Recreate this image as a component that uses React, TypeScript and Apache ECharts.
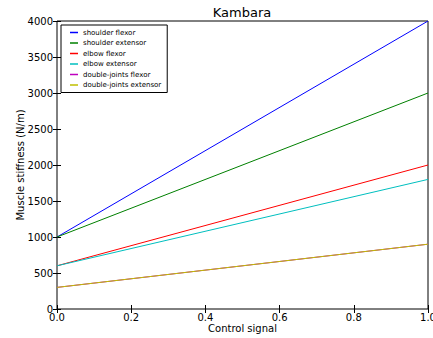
import React, { useEffect, useRef } from "react";
import * as echarts from "echarts";

const seriesNames = [
  "shoulder flexor",
  "shoulder extensor",
  "elbow flexor",
  "elbow extensor",
  "double-joints flexor",
  "double-joints extensor",
];
const xValues = [0, 1];
const startValues = [1000, 1000, 600, 600, 300, 300];
const endValues = [4000, 3000, 2000, 1800, 900, 900];
const colors = ["#0000ff", "#008000", "#ff0000", "#00bfbf", "#bf00bf", "#bfbf00"];

export default function App() {
  const ref = useRef<HTMLDivElement>(null);
  useEffect(() => {
    if (!ref.current) return;
    const chart = echarts.init(ref.current, null, { renderer: "svg" });
    const font = "DejaVu Sans";
    const tickStyle = { show: true, inside: true, length: 4, lineStyle: { color: "#000", width: 1 } };
    chart.setOption({
      animation: false,
      textStyle: { fontFamily: font },
      title: {
        text: "Kambara",
        left: 242,
        textAlign: "center",
        top: 6,
        padding: 0,
        textStyle: { fontFamily: font, fontSize: 13, fontWeight: "normal", color: "#000" },
      },
      legend: {
        orient: "vertical",
        left: 61,
        top: 25,
        borderColor: "#000",
        borderWidth: 1,
        padding: [4, 6, 4, 9],
        itemWidth: 8,
        itemHeight: 1.5,
        itemGap: 3.5,
        icon: "rect",
        textStyle: { fontFamily: font, fontSize: 7, color: "#000" },
        data: seriesNames,
      },
      grid: {
        left: 57,
        right: 5,
        top: 21,
        bottom: 29,
        show: true,
        borderColor: "#000",
        borderWidth: 1,
        containLabel: false,
        outerBoundsMode: "none",
      },
      xAxis: [
        {
          type: "value",
          min: 0,
          max: 1,
          interval: 0.2,
          name: "Control signal",
          nameLocation: "middle",
          nameGap: 14,
          nameMoveOverlap: false,
          nameTextStyle: { fontFamily: font, fontSize: 10, color: "#000" },
          axisLine: { show: false },
          axisTick: tickStyle,
          splitLine: { show: false },
          axisLabel: {
            fontFamily: font,
            fontSize: 10,
            color: "#000",
            margin: 3,
            hideOverlap: false,
            formatter: (v: number) => v.toFixed(1),
          },
        },
        {
          type: "value",
          position: "top",
          min: 0,
          max: 1,
          interval: 0.2,
          axisLine: { show: false },
          axisTick: tickStyle,
          splitLine: { show: false },
          axisLabel: { show: false },
        },
      ],
      yAxis: [
        {
          type: "value",
          min: 0,
          max: 4000,
          interval: 500,
          name: "Muscle stiffness (N/m)",
          nameLocation: "middle",
          nameGap: 32,
          nameMoveOverlap: false,
          nameTextStyle: { fontFamily: font, fontSize: 10, color: "#000" },
          axisLine: { show: false },
          axisTick: tickStyle,
          splitLine: { show: false },
          axisLabel: {
            fontFamily: font,
            fontSize: 10,
            color: "#000",
            margin: 4,
            formatter: (v: number) => String(v),
          },
        },
        {
          type: "value",
          position: "right",
          min: 0,
          max: 4000,
          interval: 500,
          axisLine: { show: false },
          axisTick: tickStyle,
          splitLine: { show: false },
          axisLabel: { show: false },
        },
      ],
      series: seriesNames.map((name, i) => ({
        name,
        type: "line",
        showSymbol: false,
        symbol: "none",
        color: colors[i],
        lineStyle: { width: 1, color: colors[i] },
        data: [
          [xValues[0], startValues[i]],
          [xValues[1], endValues[i]],
        ],
      })),
    });
    return () => chart.dispose();
  }, []);
  return (
    <div
      ref={ref}
      style={{ position: "fixed", left: 0, top: 0, width: 433, height: 338, background: "#fff" }}
    />
  );
}
